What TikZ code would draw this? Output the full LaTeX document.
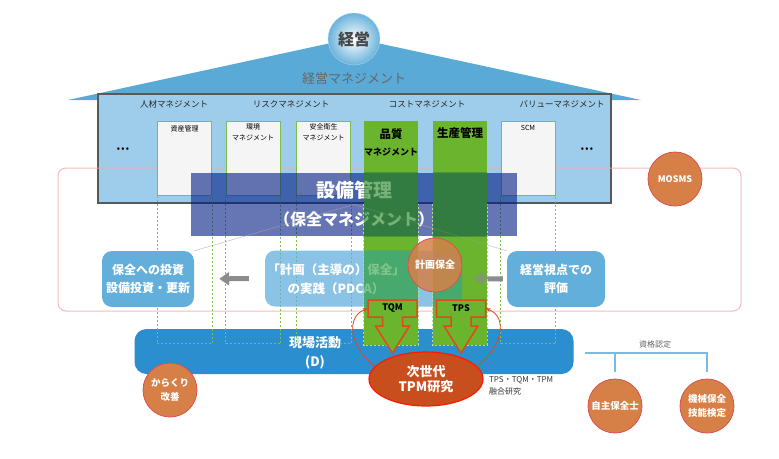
\documentclass[tikz,border=0pt]{standalone}
\usepackage{fontspec}
\setmainfont{Noto Sans CJK JP}
\usepackage{xcolor}
\usepackage{tikz}
\usetikzlibrary{arrows.meta,positioning,shapes.geometric}

\definecolor{roofblue}{HTML}{5AAAD7}
\definecolor{houseblue}{HTML}{9DCDEA}
\definecolor{bandblue}{RGB}{0,27,130}
\definecolor{boxblue}{HTML}{63AFDC}
\definecolor{barblue}{HTML}{2A8ECF}
\definecolor{leafgreen}{HTML}{6AB42E}
\definecolor{deepgreen}{RGB}{0,100,60}
\definecolor{teal}{RGB}{0,150,110}
\definecolor{guidegreen}{HTML}{7CC04A}
\definecolor{zonepink}{HTML}{F0AAAA}
\definecolor{dotorange}{HTML}{D68048}
\definecolor{dotrim}{HTML}{DC5050}
\definecolor{rust}{HTML}{C84E1E}
\definecolor{callred}{HTML}{E2481C}

\newcommand{\fs}[2]{\fontsize{#1}{#2}\selectfont}

\begin{document}
\begin{tikzpicture}[
    x=1pt, y=-1pt,
    roof/.style={fill=roofblue},
    topdot/.style={circle, minimum size=52pt, inner sep=0pt, draw=roofblue!50,
                   inner color=white, outer color=roofblue!90,
                   font=\fs{16}{18}\bfseries, text=black!72},
    house/.style={draw=black!65, line width=1.2pt, fill=houseblue,
                  minimum width=513pt, minimum height=109pt, inner sep=0pt},
    dept/.style={font=\fs{8.5}{10}, text=black!85},
    zone/.style={draw=zonepink, draw opacity=.8, line width=1pt, rounded corners=8pt,
                 minimum width=683pt, minimum height=143pt},
    subbox/.style={draw=guidegreen, line width=1pt, fill=black!4,
                   minimum width=54pt, minimum height=74pt, inner sep=0pt},
    subtext/.style={font=\fs{7}{11}, align=center, inner sep=1pt},
    dotrow/.style={font=\fs{8}{8}\bfseries},
    fieldbar/.style={fill=barblue, rounded corners=12pt,
                     minimum width=439pt, minimum height=45pt},
    bartext/.style={font=\fs{13}{19}\bfseries, text=white, align=center},
    guide/.style={draw=guidegreen, line width=.8pt, dash pattern=on 2pt off 2pt},
    colbar/.style={fill=leafgreen, minimum width=54pt, minimum height=224pt, inner sep=0pt},
    colshade/.style={fill=leafgreen, fill opacity=.35},
    coledge/.style={draw=leafgreen!50!white, line width=.8pt, dash pattern=on 2pt off 2pt},
    coltext/.style={font=\fs{11.5}{17}\bfseries, align=center, inner sep=0pt},
    sidebox/.style={fill=boxblue, rounded corners=10pt, minimum height=56pt, inner sep=0pt,
                    font=\fs{12}{18}\bfseries, text=white, align=center},
    boxtext/.style={font=\fs{12.5}{19}\bfseries, text=white, align=center},
    band/.style={fill=bandblue, fill opacity=.6, text opacity=1,
                 minimum width=326pt, minimum height=63pt,
                 text=white, align=center, font=\fs{19}{28}\bfseries},
    thinline/.style={draw=black!35, draw opacity=.7, line width=.5pt},
    grayarrow/.style={-{Triangle[width=13pt,length=10pt]}, draw=black!45, line width=5pt},
    orangedot/.style={circle, fill=dotorange, draw=dotrim, line width=.8pt,
                      minimum size=54pt, inner sep=0pt, text=white,
                      font=\fs{9.5}{14}\bfseries, align=center},
    calloutline/.style={fill=leafgreen, draw=callred, line width=1.5pt},
    calltext/.style={minimum width=49pt, minimum height=17pt, inner sep=0pt,
                     font=\fs{9}{10}\bfseries},
    curvearrow/.style={-{Stealth[length=5pt,width=4pt]}, draw=callred, line width=.8pt},
    genellipse/.style={ellipse, fill=rust, draw=red!80!orange, line width=1.2pt,
                       minimum width=114pt, minimum height=54pt, inner sep=0pt,
                       text=white, font=\fs{13}{15}\bfseries, align=center},
    notetext/.style={font=\fs{8}{12}, align=left, text=black!80, inner sep=0pt},
    treeline/.style={draw=roofblue!80, line width=1.2pt}
  ]

  \useasboundingbox (0,0) rectangle (779,458);

  % house of management
  \fill[roof] (68,100) -- (354,38) -- (641,100) -- cycle;
  \node[house] (house) at (354.5,148.5) {};
  \node[topdot] (keiei) at (354,39) {経営};
  \node[font=\fs{13}{14}, text=black!60] (mgmtlabel) at (354,79) {経営マネジメント};

  \node[dept] (hr) at (174,104) {人材マネジメント};
  \node[dept] (risk) at (291,104) {リスクマネジメント};
  \node[dept] (cost) at (427,104) {コストマネジメント};
  \node[dept] (value) at (562,104) {バリューマネジメント};

  \node[zone] (zone) at (399.5,239.5) {};

  \node[subbox] (asset) at (184.5,158) {};
  \node[subtext, below=4pt of asset.north] (assettext) {資産管理};
  \node[subbox] (env) at (253,158) {};
  \node[subtext, below=2pt of env.north] (envtext) {環境\\マネジメント};
  \node[subbox] (safety) at (323.5,158) {};
  \node[subtext, below=2pt of safety.north] (safetytext) {安全衛生\\マネジメント};
  \node[subbox] (scm) at (528,158) {};
  \node[subtext, below=4pt of scm.north] (scmtext) {SCM};

  \node[dotrow] (dotsleft) at (123,150) {•\,•\,•};
  \node[dotrow] (dotsright) at (587,150) {•\,•\,•};

  % shop floor
  \node[fieldbar] (field) at (354,351.5) {};
  \node[bartext] (fieldtext) at (315,352.5) {現場活動\\(D)};

  \draw[guide] (asset.south west) -- ++(0,148) -| (asset.south east);
  \draw[guide] (env.south west) -- ++(0,148) -| (env.south east);
  \draw[guide] (safety.south west) -- ++(0,148) -| (safety.south east);
  \draw[guide] (scm.south west) -- ++(0,148) -| (scm.south east);

  \node[colbar] (quality) at (391,233) {};
  \node[colbar] (production) at (460,233) {};

  % PDCA row
  \node[sidebox, minimum width=92pt] (invest) at (148,279) {保全への投資\\設備投資・更新};
  \node[sidebox, minimum width=197pt, fill opacity=.75] (plan) at (363.5,278.5) {};
  \node[boxtext] (plantext) at (336,279) {「計画（主導の）保全」\\の実践（PDCA）};
  \node[sidebox, minimum width=98pt] (eval) at (556,279) {経営視点での\\評価};

  \node[band] (band) at (354,204.5) {設備管理\\{\fs{16}{28}（保全マネジメント）}};
  \draw[thinline] (band.center) -- (invest.north east);
  \draw[thinline] (band.center) -- (eval.north west);

  \draw[grayarrow, shorten <=16pt, shorten >=25pt] (plan.west) -- (invest.east);
  \draw[grayarrow, shorten <=4pt, shorten >=11pt] (eval.west) -- (plan.east);

  % tint where the columns cross the band and the PDCA box
  \begin{scope}
    \clip (band.south west) rectangle (band.north east);
    \fill[deepgreen, fill opacity=.5] (quality.south west) rectangle (quality.north east);
    \fill[deepgreen, fill opacity=.5] (production.south west) rectangle (production.north east);
  \end{scope}
  \begin{scope}
    \clip[rounded corners=10pt] (plan.south west) rectangle (plan.north east);
    \fill[teal, fill opacity=.45] (quality.south west) rectangle (quality.north east);
    \fill[teal, fill opacity=.45] (production.south west) rectangle (production.north east);
  \end{scope}

  \fill[colshade] (quality.south west) rectangle (quality.north east);
  \fill[colshade] (production.south west) rectangle (production.north east);
  \draw[coledge] (quality.west |- house.south) -- (quality.south west) -- (quality.south east) -- (quality.east |- house.south);
  \draw[coledge] (production.west |- house.south) -- (production.south west) -- (production.south east) -- (production.east |- house.south);
  \node[coltext, below=8pt of quality.north] (qualitytext) {品質\\{\fs{9}{17}マネジメント}};
  \node[coltext, below=7pt of production.north] (productiontext) {生産管理};

  \node[orangedot, fill opacity=.85, text opacity=1, font=\fs{10}{12}\bfseries] (planned) at (435,265) {計画保全};
  \node[orangedot, font=\fs{9}{10}\bfseries] (mosms) at (675,179) {MOSMS};

  % TQM / TPS
  \coordinate (tqmc) at (392.5,308.5);
  \coordinate (tpsc) at (461,308.5);
  \filldraw[calloutline] (tqmc) ++(-24.5,-8.5) -- ++(49,0) -- ++(0,17) -- ++(-14.5,0) -- ++(0,9) -- ++(7,0)
    -- ++(-17,27) -- ++(-17,-27) -- ++(7,0) -- ++(0,-9) -- ++(-14.5,0) -- cycle;
  \filldraw[calloutline] (tpsc) ++(-24.5,-8.5) -- ++(49,0) -- ++(0,17) -- ++(-14.5,0) -- ++(0,9) -- ++(7,0)
    -- ++(-17,27) -- ++(-17,-27) -- ++(7,0) -- ++(0,-9) -- ++(-14.5,0) -- cycle;
  \node[calltext] (tqm) at (tqmc) {TQM};
  \node[calltext] (tps) at (tpsc) {TPS};

  \node[genellipse] (nextgen) at (426,379) {次世代\\TPM研究};
  \draw[curvearrow] (nextgen.166) .. controls +(-26,-20) and +(-22,8) .. (tqm.west);
  \draw[curvearrow] (nextgen.14) .. controls +(26,-20) and +(22,8) .. (tps.east);
  \node[notetext, anchor=north west] (fusion) at (489,376) {TPS・TQM・TPM\\融合研究};

  \node[orangedot] (karakuri) at (170,390) {からくり\\改善};

  % qualifications
  \node[font=\fs{8}{10}, text=black!60] (qual) at (655,344) {資格認定};
  \coordinate (treeleft) at (585,353);
  \node[orangedot] (jishu) at (615,406) {自主保全士};
  \node[orangedot] (kikai) at (707,406) {機械保全\\技能検定};
  \draw[treeline, shorten >=7pt] (treeleft) -| (kikai.north);
  \draw[treeline, shorten >=7pt] (jishu.north |- treeleft) -- (jishu.north);

\end{tikzpicture}
\end{document}
